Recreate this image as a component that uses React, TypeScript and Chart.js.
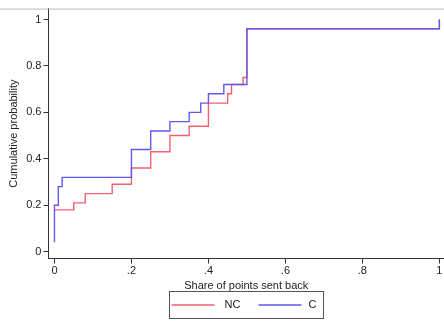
import { useEffect, useRef } from 'react';
import { Chart, registerables } from 'chart.js';

Chart.register(...registerables);

// Share of points sent back (x) and cumulative probability (y)
const ncX = [0, 0.05, 0.08, 0.15, 0.2, 0.25, 0.3, 0.35, 0.4, 0.45, 0.46, 0.49, 0.5, 1];
const ncY = [0.18, 0.21, 0.25, 0.29, 0.36, 0.43, 0.5, 0.54, 0.64, 0.68, 0.72, 0.75, 0.96, 1];
const cX = [0, 0, 0.01, 0.02, 0.2, 0.25, 0.3, 0.35, 0.38, 0.4, 0.44, 0.5, 1];
const cY = [0.04, 0.2, 0.28, 0.32, 0.44, 0.52, 0.56, 0.6, 0.64, 0.68, 0.72, 0.96, 1];

const xTicks = [0, 0.2, 0.4, 0.6, 0.8, 1];
const xTickLabels = ['0', '.2', '.4', '.6', '.8', '1'];
const yTicks = [0, 0.2, 0.4, 0.6, 0.8, 1];
const yTickLabels = ['0', '0.2', '0.4', '0.6', '0.8', '1'];

const seriesLabels = ['NC', 'C'];
const seriesColors = ['#f2606e', '#6558ee'];

const FONT = '"Liberation Sans", Arial, Helvetica, sans-serif';

const legendPlugin = {
  id: 'stataLegend',
  afterDraw(chart: any) {
    const ctx = chart.ctx;
    const area = chart.chartArea;
    const cx = (area.left + area.right) / 2;
    const w = 154;
    const h = 27;
    const x0 = Math.round(cx - w / 2) + 0.5;
    const y0 = 291.5;
    ctx.save();
    // top border of plot region
    ctx.strokeStyle = '#b8b8b8';
    ctx.lineWidth = 1;
    ctx.beginPath();
    ctx.moveTo(0, area.top + 0.5);
    ctx.lineTo(chart.width, area.top + 0.5);
    ctx.stroke();
    // legend box
    ctx.strokeStyle = '#555';
    ctx.lineWidth = 1;
    ctx.strokeRect(x0, y0, w, h);
    const ym = y0 + h / 2;
    ctx.font = '11px ' + FONT;
    ctx.textBaseline = 'middle';
    ctx.fillStyle = '#222';
    const entries = [
      { lx: x0 + 2, lw: 43, tx: x0 + 55 },
      { lx: x0 + 89, lw: 43, tx: x0 + 139 },
    ];
    entries.forEach((e, i) => {
      ctx.strokeStyle = seriesColors[i];
      ctx.lineWidth = 1.3;
      ctx.beginPath();
      ctx.moveTo(e.lx, ym);
      ctx.lineTo(e.lx + e.lw, ym);
      ctx.stroke();
      ctx.fillText(seriesLabels[i], e.tx, ym);
    });
    ctx.restore();
  },
};

export default function App() {
  const ref = useRef<HTMLCanvasElement | null>(null);
  useEffect(() => {
    if (!ref.current) return;
    Chart.defaults.font.family = FONT;
    Chart.defaults.font.size = 11;
    Chart.defaults.color = '#222';
    const chart = new Chart(ref.current, {
      type: 'line',
      data: {
        datasets: [
          {
            label: seriesLabels[0],
            data: ncX.map((x, i) => ({ x, y: ncY[i] })),
            borderColor: seriesColors[0],
            borderWidth: 1.4,
            pointRadius: 0,
            stepped: 'before',
            fill: false,
            order: 1,
          },
          {
            label: seriesLabels[1],
            data: cX.map((x, i) => ({ x, y: cY[i] })),
            borderColor: seriesColors[1],
            borderWidth: 1.4,
            pointRadius: 0,
            stepped: 'before',
            fill: false,
            order: 0,
          },
        ],
      },
      options: {
        responsive: false,
        animation: false,
        layout: { padding: { left: 7, top: 3, right: 0, bottom: 29 } },
        plugins: { legend: { display: false }, tooltip: { enabled: false } },
        scales: {
          x: {
            type: 'linear',
            min: -0.0155,
            max: 1.012,
            afterBuildTicks: (s: any) => {
              s.ticks = xTicks.map((v) => ({ value: v }));
            },
            ticks: {
              padding: 1,
              maxRotation: 0,
              autoSkip: false,
              callback: (v: any) => {
                const i = xTicks.findIndex((t) => Math.abs(t - v) < 1e-9);
                return i >= 0 ? xTickLabels[i] : '';
              },
            },
            grid: { drawOnChartArea: false, drawTicks: true, tickLength: 5, color: '#333' },
            border: { display: true, color: '#333', width: 1 },
            title: { display: true, text: 'Share of points sent back', padding: { top: 1, bottom: 0 } },
          },
          y: {
            type: 'linear',
            min: -0.03,
            max: 1.047,
            afterBuildTicks: (s: any) => {
              s.ticks = yTicks.map((v) => ({ value: v }));
            },
            ticks: {
              padding: 2,
              autoSkip: false,
              callback: (v: any) => {
                const i = yTicks.findIndex((t) => Math.abs(t - v) < 1e-9);
                return i >= 0 ? yTickLabels[i] : '';
              },
            },
            grid: { drawOnChartArea: false, drawTicks: true, tickLength: 5, color: '#333' },
            border: { display: true, color: '#333', width: 1 },
            title: { display: true, text: 'Cumulative probability', padding: { top: 0, bottom: 4 } },
          },
        },
      },
      plugins: [legendPlugin],
    });
    return () => chart.destroy();
  }, []);
  return (
    <div style={{ position: 'fixed', left: 0, top: 0, width: 444, height: 322, background: '#fff' }}>
      <canvas ref={ref} width={444} height={322} style={{ display: 'block' }} />
    </div>
  );
}
